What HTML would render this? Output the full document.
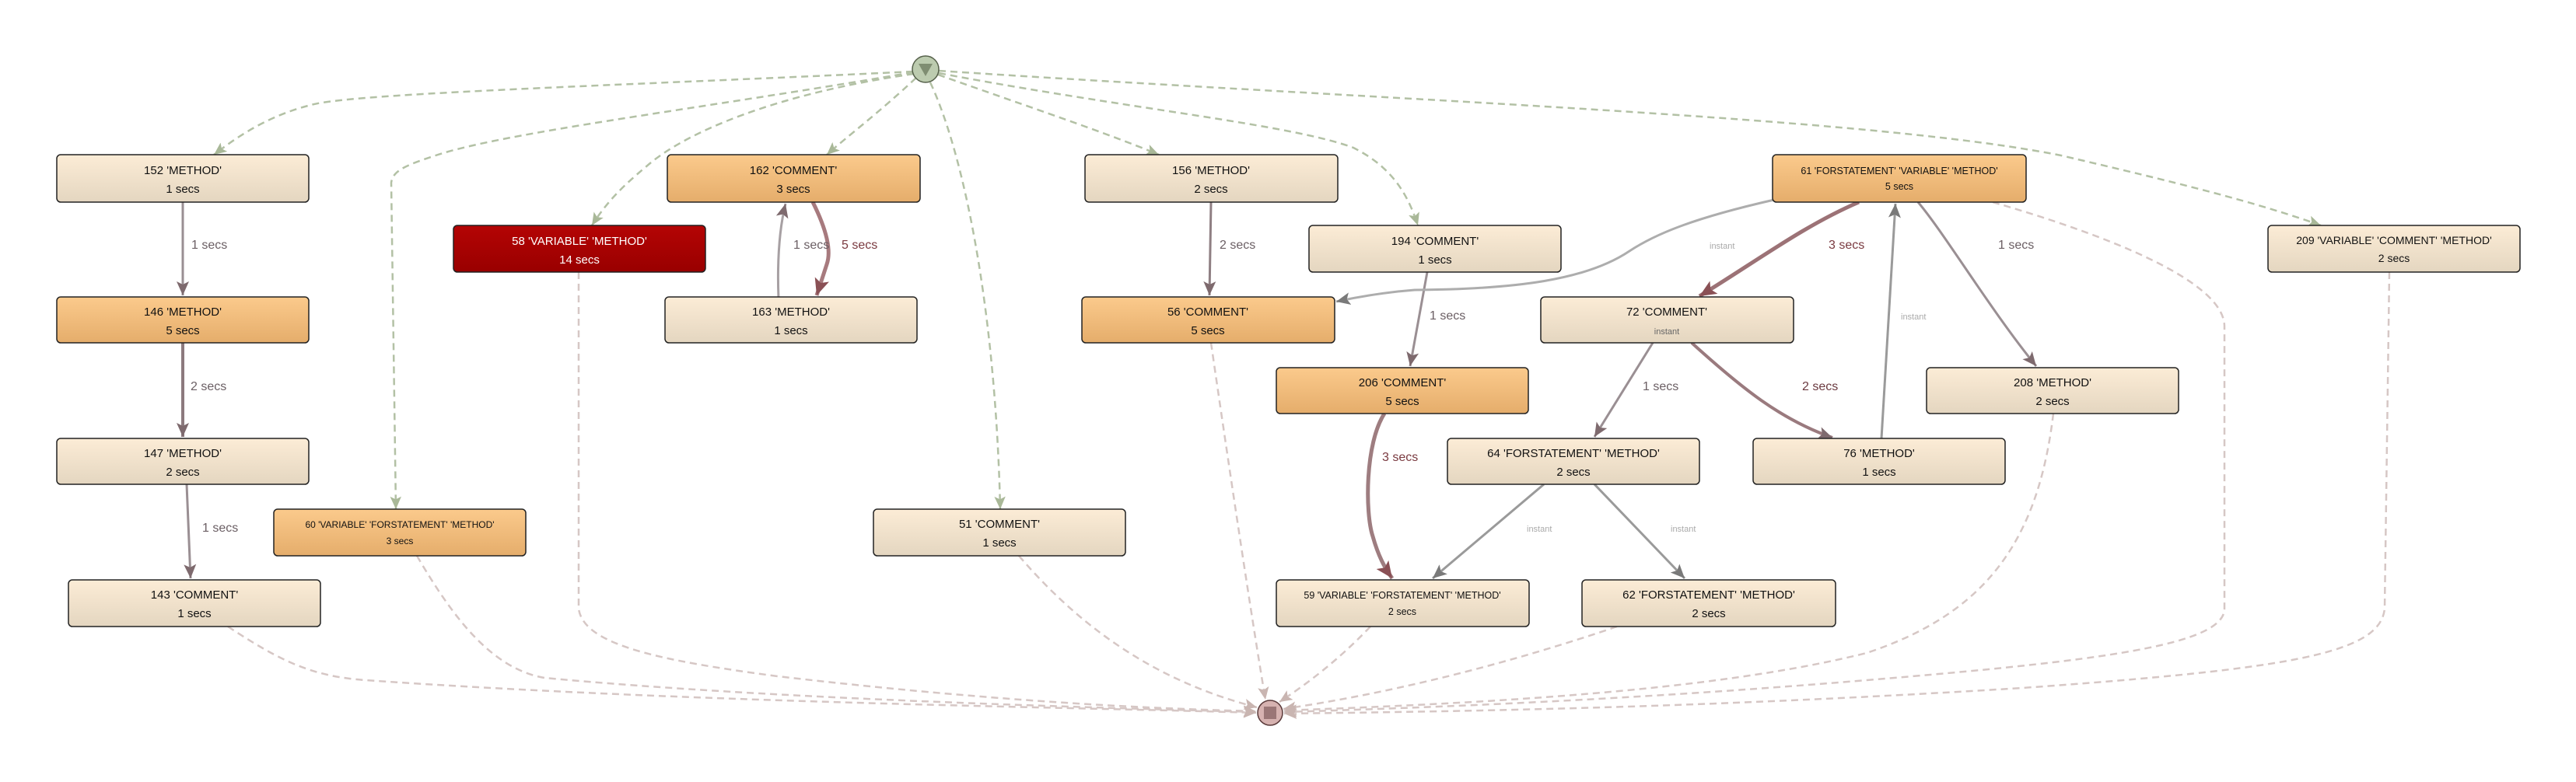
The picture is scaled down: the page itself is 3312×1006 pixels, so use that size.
<!DOCTYPE html>
<html><head><meta charset="utf-8"><style>
html,body{margin:0;padding:0;background:#fff;}
svg{display:block;font-family:"Liberation Sans",sans-serif;}
</style></head><body>
<svg width="3312" height="1006" viewBox="0 0 3312 1006" xmlns="http://www.w3.org/2000/svg">
<defs>
<linearGradient id="gb" x1="0" y1="0" x2="0" y2="1"><stop offset="0" stop-color="#fcecd6"/><stop offset="1" stop-color="#e4d6c0"/></linearGradient>
<linearGradient id="go" x1="0" y1="0" x2="0" y2="1"><stop offset="0" stop-color="#fbca8c"/><stop offset="1" stop-color="#e5ad6b"/></linearGradient>
<linearGradient id="gr" x1="0" y1="0" x2="0" y2="1"><stop offset="0" stop-color="#b40404"/><stop offset="1" stop-color="#990000"/></linearGradient>
<marker id="ag" viewBox="0 0 10 10" refX="9" refY="5" markerWidth="6" markerHeight="6" orient="auto" markerUnits="userSpaceOnUse" style="overflow:visible"><path d="M-8,-7 L9,5 L-8,17 Z" transform="scale(1)" fill="#a9b898"/></marker>
<marker id="ap" viewBox="0 0 20 20" refX="18" refY="10" markerWidth="18" markerHeight="18" orient="auto" markerUnits="userSpaceOnUse"><path d="M0,2 L18,10 L0,18 L4,10 Z" fill="#c9b5b1"/></marker>
<marker id="am" viewBox="0 0 20 20" refX="18" refY="10" markerWidth="20" markerHeight="20" orient="auto" markerUnits="userSpaceOnUse"><path d="M0,2 L18,10 L0,18 L4,10 Z" fill="#7e6a6e"/></marker>
<marker id="ar" viewBox="0 0 20 20" refX="18" refY="10" markerWidth="24" markerHeight="24" orient="auto" markerUnits="userSpaceOnUse"><path d="M0,2 L18,10 L0,18 L4,10 Z" fill="#8a5055"/></marker>
<marker id="ay" viewBox="0 0 20 20" refX="18" refY="10" markerWidth="20" markerHeight="20" orient="auto" markerUnits="userSpaceOnUse"><path d="M0,2 L18,10 L0,18 L4,10 Z" fill="#7a7a7a"/></marker>
<marker id="agr" viewBox="0 0 20 20" refX="18" refY="10" markerWidth="18" markerHeight="18" orient="auto" markerUnits="userSpaceOnUse"><path d="M0,2 L18,10 L0,18 L4,10 Z" fill="#a9b898"/></marker>
</defs>

<!-- green dashed from start -->
<g fill="none" stroke="#b3c1a5" stroke-width="2.5" stroke-dasharray="9,6" marker-end="url(#agr)">
<path d="M1174,92 C800,110 450,120 400,135 C340,150 300,180 275,199"/>
<path d="M1174,93 C900,140 650,170 560,200 C520,213 505,220 503,235 L509,655"/>
<path d="M1175,95 C1000,120 880,170 830,215 C800,240 780,260 761,290"/>
<path d="M1178,100 C1130,145 1090,175 1063,199"/>
<path d="M1196,106 C1240,200 1280,400 1286,655"/>
<path d="M1206,96 C1330,140 1420,170 1490,199"/>
<path d="M1207,94 C1450,140 1660,160 1740,190 C1790,215 1810,250 1823,290"/>
<path d="M1207,91 C1800,130 2400,150 2650,200 C2800,235 2900,260 2984,290"/>
</g>

<!-- pink dashed to end -->
<g fill="none" stroke="#d6c7c5" stroke-width="2.5" stroke-dasharray="9,6" marker-end="url(#ap)">
<path d="M293,806 C360,850 400,870 470,875 C900,905 1400,910 1615,917"/>
<path d="M536,715 C580,790 630,860 700,872 C1000,900 1400,910 1615,916"/>
<path d="M744,350 L744,783 C750,830 850,850 1000,870 C1300,905 1500,912 1615,915"/>
<path d="M1310,715 C1400,820 1500,880 1616,910"/>
<path d="M1557,441 C1580,600 1610,800 1627,900"/>
<path d="M1762,806 C1720,850 1680,880 1645,903"/>
<path d="M2079,806 C1950,850 1800,890 1650,912"/>
<path d="M2640,532 C2620,700 2550,790 2400,840 C2200,890 1900,905 1651,914"/>
<path d="M2562,260 C2700,300 2860,360 2860,420 L2860,783 C2860,830 2700,850 2400,875 C2100,900 1850,910 1651,916"/>
<path d="M3072,350 L3066,783 C3060,840 2950,860 2600,885 C2200,910 1900,915 1651,918"/>
</g>

<!-- solid edges -->
<g fill="none">
<path d="M235,260 L235,380" stroke="#9a8f93" stroke-width="3" marker-end="url(#am)"/>
<path d="M235,441 L235,562" stroke="#8c7a7e" stroke-width="4" marker-end="url(#am)"/>
<path d="M240,623 L245,744" stroke="#9a8f93" stroke-width="3" marker-end="url(#am)"/>
<path d="M1006,441 C998,380 998,310 1010,262" stroke="#a7a0a3" stroke-width="3" marker-end="url(#am)"/>
<path d="M1045,260 C1060,290 1070,320 1063,340 C1058,355 1054,368 1050,380" stroke="#a77a7e" stroke-width="5" marker-end="url(#ar)"/>
<path d="M1557,260 L1555,380" stroke="#8f7f83" stroke-width="3" marker-end="url(#am)"/>
<path d="M1835,350 L1813,471" stroke="#9a8f93" stroke-width="3" marker-end="url(#am)"/>
<path d="M2281,257 C2180,280 2130,300 2095,323 C2040,360 1950,372 1819,373 C1780,376 1750,381 1718,388" stroke="#adadad" stroke-width="3" marker-end="url(#ay)"/>
<path d="M2390,260 C2320,290 2260,335 2185,381" stroke="#9c7276" stroke-width="5" marker-end="url(#ar)"/>
<path d="M2419,564 L2437,262" stroke="#9a9a9a" stroke-width="3" marker-end="url(#ay)"/>
<path d="M2466,260 C2500,300 2560,400 2618,471" stroke="#9a8f93" stroke-width="3" marker-end="url(#am)"/>
<path d="M2125,441 L2050,562" stroke="#9a8f93" stroke-width="3" marker-end="url(#am)"/>
<path d="M2175,441 C2240,500 2290,540 2356,563" stroke="#9a7a7e" stroke-width="4" marker-end="url(#am)"/>
<path d="M1780,532 C1755,570 1755,660 1765,690 C1772,715 1780,730 1790,744" stroke="#9e7d80" stroke-width="5" marker-end="url(#ar)"/>
<path d="M1985,623 L1842,744" stroke="#9a9a9a" stroke-width="3" marker-end="url(#ay)"/>
<path d="M2050,623 L2166,744" stroke="#9a9a9a" stroke-width="3" marker-end="url(#ay)"/>
</g>

<!-- edge labels -->
<g font-size="16" fill="#6b5f64">
<text x="246" y="320">1 secs</text>
<text x="245" y="502">2 secs</text>
<text x="260" y="684">1 secs</text>
<text x="1020" y="320">1 secs</text>
<text x="1082" y="320" fill="#7a3a40">5 secs</text>
<text x="1568" y="320">2 secs</text>
<text x="1838" y="411">1 secs</text>
<text x="2351" y="320" fill="#7a3a40">3 secs</text>
<text x="2569" y="320">1 secs</text>
<text x="2112" y="502">1 secs</text>
<text x="2317" y="502" fill="#6b3a40">2 secs</text>
<text x="1777" y="593" fill="#7a3a40">3 secs</text>
</g>
<g font-size="11" fill="#aaaaaa">
<text x="2198" y="320">instant</text>
<text x="2444" y="411">instant</text>
<text x="1963" y="684">instant</text>
<text x="2148" y="684">instant</text>
</g>

<!-- nodes -->
<g stroke="#222" stroke-width="1.5">
<rect x="73" y="199" width="324" height="61" rx="5" fill="url(#gb)"/>
<rect x="73" y="382" width="324" height="59" rx="5" fill="url(#go)"/>
<rect x="73" y="564" width="324" height="59" rx="5" fill="url(#gb)"/>
<rect x="88" y="746" width="324" height="60" rx="5" fill="url(#gb)"/>
<rect x="352" y="655" width="324" height="60" rx="5" fill="url(#go)"/>
<rect x="583" y="290" width="324" height="60" rx="5" fill="url(#gr)"/>
<rect x="858" y="199" width="325" height="61" rx="5" fill="url(#go)"/>
<rect x="855" y="382" width="324" height="59" rx="5" fill="url(#gb)"/>
<rect x="1123" y="655" width="324" height="60" rx="5" fill="url(#gb)"/>
<rect x="1395" y="199" width="325" height="61" rx="5" fill="url(#gb)"/>
<rect x="1391" y="382" width="325" height="59" rx="5" fill="url(#go)"/>
<rect x="1683" y="290" width="324" height="60" rx="5" fill="url(#gb)"/>
<rect x="1641" y="473" width="324" height="59" rx="5" fill="url(#go)"/>
<rect x="1641" y="746" width="325" height="60" rx="5" fill="url(#gb)"/>
<rect x="1861" y="564" width="324" height="59" rx="5" fill="url(#gb)"/>
<rect x="1981" y="382" width="325" height="59" rx="5" fill="url(#gb)"/>
<rect x="2034" y="746" width="326" height="60" rx="5" fill="url(#gb)"/>
<rect x="2279" y="199" width="326" height="61" rx="5" fill="url(#go)"/>
<rect x="2477" y="473" width="324" height="59" rx="5" fill="url(#gb)"/>
<rect x="2254" y="564" width="324" height="59" rx="5" fill="url(#gb)"/>
<rect x="2916" y="290" width="324" height="60" rx="5" fill="url(#gb)"/>
</g>

<g font-size="15" fill="#111" text-anchor="middle">
<text x="235" y="224">152 'METHOD'</text><text x="235" y="248">1 secs</text>
<text x="235" y="406">146 'METHOD'</text><text x="235" y="430">5 secs</text>
<text x="235" y="588">147 'METHOD'</text><text x="235" y="612">2 secs</text>
<text x="250" y="770">143 'COMMENT'</text><text x="250" y="794">1 secs</text>
<text x="745" y="315" fill="#fff">58 'VARIABLE'  'METHOD'</text><text x="745" y="339" fill="#fff">14 secs</text>
<text x="1020" y="224">162 'COMMENT'</text><text x="1020" y="248">3 secs</text>
<text x="1017" y="406">163 'METHOD'</text><text x="1017" y="430">1 secs</text>
<text x="1285" y="679">51 'COMMENT'</text><text x="1285" y="703">1 secs</text>
<text x="1557" y="224">156 'METHOD'</text><text x="1557" y="248">2 secs</text>
<text x="1553" y="406">56 'COMMENT'</text><text x="1553" y="430">5 secs</text>
<text x="1845" y="315">194 'COMMENT'</text><text x="1845" y="339">1 secs</text>
<text x="1803" y="497">206 'COMMENT'</text><text x="1803" y="521">5 secs</text>
<text x="2023" y="588">64 'FORSTATEMENT'  'METHOD'</text><text x="2023" y="612">2 secs</text>
<text x="2143" y="406">72 'COMMENT'</text>
<text x="2197" y="770">62 'FORSTATEMENT'  'METHOD'</text><text x="2197" y="794">2 secs</text>
<text x="2639" y="497">208 'METHOD'</text><text x="2639" y="521">2 secs</text>
<text x="2416" y="588">76 'METHOD'</text><text x="2416" y="612">1 secs</text>
</g>
<g fill="#111" text-anchor="middle">
<text x="2143" y="430" font-size="11" fill="#666">instant</text>
<text x="514" y="679" font-size="12">60 'VARIABLE'  'FORSTATEMENT'  'METHOD'</text><text x="514" y="700" font-size="12">3 secs</text>
<text x="1803" y="770" font-size="12.5">59 'VARIABLE'  'FORSTATEMENT'  'METHOD'</text><text x="1803" y="791" font-size="12.5">2 secs</text>
<text x="2442" y="224" font-size="12.5">61 'FORSTATEMENT'  'VARIABLE'  'METHOD'</text><text x="2442" y="244" font-size="12.5">5 secs</text>
<text x="3078" y="314" font-size="14">209 'VARIABLE'  'COMMENT'  'METHOD'</text><text x="3078" y="337" font-size="14">2 secs</text>
</g>

<!-- start / end -->
<circle cx="1190" cy="89" r="17" fill="#bccbaf" stroke="#55604a" stroke-width="1.5"/>
<path d="M1181,82 L1199,82 L1190,98 Z" fill="#7f8d72"/>
<circle cx="1633" cy="917" r="16" fill="#d6b2b0" stroke="#5a3a3a" stroke-width="1.5"/>
<rect x="1625" y="909" width="16" height="16" fill="#9a7676"/>
</svg>
</body></html>
